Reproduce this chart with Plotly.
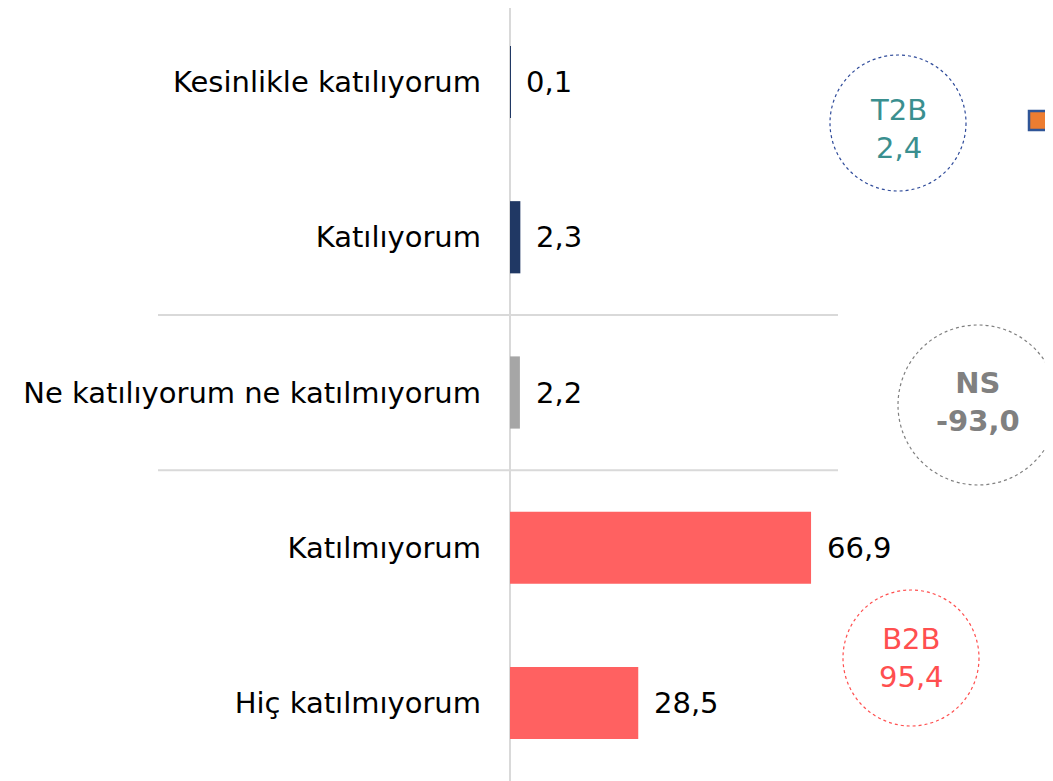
import plotly.graph_objects as go

categories = ["Kesinlikle katılıyorum", "Katılıyorum", "Ne katılıyorum ne katılmıyorum",
              "Katılmıyorum", "Hiç katılmıyorum"]
values = [0.1, 2.3, 2.2, 66.9, 28.5]
value_labels = ["0,1", "2,3", "2,2", "66,9", "28,5"]
bar_colors = ["#203864", "#203864", "#A6A6A6", "#FF6161", "#FF6161"]

summary_names = ["T2B", "NS", "B2B"]
summary_values = ["2,4", "-93,0", "95,4"]

OFF = 8  # page body margin
W, H = 1053 - OFF, 781 - OFF
L = 510 - OFF
PW, PH = W - L, H

def px_x(page_x):
    return (page_x - OFF - L) / PW

def px_y(page_y):
    return (H - (page_y - OFF)) / PH

# category axis: first category centre at page y=82, spacing 155.25 px
STEP = 155.25
c0 = 82 - OFF
y_top = -c0 / STEP
y_bot = (H - c0) / STEP

fig = go.Figure()
fig.add_trace(go.Bar(
    x=values, y=categories, orientation="h",
    marker=dict(color=bar_colors, line=dict(width=0)),
    width=0.465, hoverinfo="skip",
))

for v, c, lab in zip(values, categories, value_labels):
    fig.add_annotation(x=v, y=c, text=lab, showarrow=False, xanchor="left",
                       xshift=14, font=dict(size=29, color="#000000"))

# separators between groups
for yv in [1.5, 2.5]:
    fig.add_shape(type="line", xref="paper", yref="y", x0=px_x(158), x1=px_x(838),
                  y0=yv, y1=yv, line=dict(color="#D9D9D9", width=2), layer="below")

# summary circles
circles = [
    dict(cx=898, cy=123, r=68, ty=129, line="#2F4B9A", text="#3A8F8F", bold=False),
    dict(cx=978, cy=405, r=80, ty=402, line="#808080", text="#808080", bold=True),
    dict(cx=911, cy=658, r=68, ty=658, line="#FF4F4F", text="#FF4F4F", bold=False),
]
for c, name, val in zip(circles, summary_names, summary_values):
    fig.add_shape(type="circle", xref="paper", yref="paper",
                  x0=px_x(c["cx"] - c["r"]), x1=px_x(c["cx"] + c["r"]),
                  y0=px_y(c["cy"] + c["r"]), y1=px_y(c["cy"] - c["r"]),
                  line=dict(color=c["line"], width=1.2, dash="dot"))
    txt = f"<b>{name}<br>{val}</b>" if c["bold"] else f"{name}<br>{val}"
    fig.add_annotation(xref="paper", yref="paper", x=px_x(c["cx"]), y=px_y(c["ty"]),
                       text=txt, showarrow=False, align="center",
                       xanchor="center", yanchor="middle",
                       font=dict(size=29, color=c["text"]))

# cropped legend marker at right edge
fig.add_shape(type="rect", xref="paper", yref="paper",
              x0=px_x(1029), x1=px_x(1070), y0=px_y(130), y1=px_y(111),
              fillcolor="#ED7D31", line=dict(color="#2F5597", width=2.5))

fig.update_layout(
    width=W, height=H,
    margin=dict(l=L, r=0, t=0, b=0, pad=0),
    paper_bgcolor="white", plot_bgcolor="white",
    font=dict(family="DejaVu Sans, Verdana, sans-serif", size=29, color="#000000"),
    showlegend=False,
    bargap=0.5,
    xaxis=dict(range=[0, PW / 4.5], showgrid=False, showticklabels=False,
               zeroline=True, zerolinecolor="#D9D9D9", zerolinewidth=2,
               showline=False, fixedrange=True),
    yaxis=dict(categoryorder="array", categoryarray=categories,
               range=[y_bot, y_top], autorange=False,
               showgrid=False, zeroline=False, showline=False, ticks="",
               ticklabelstandoff=28, tickfont=dict(size=29, color="#000000")),
)

fig.write_html("out.html")
